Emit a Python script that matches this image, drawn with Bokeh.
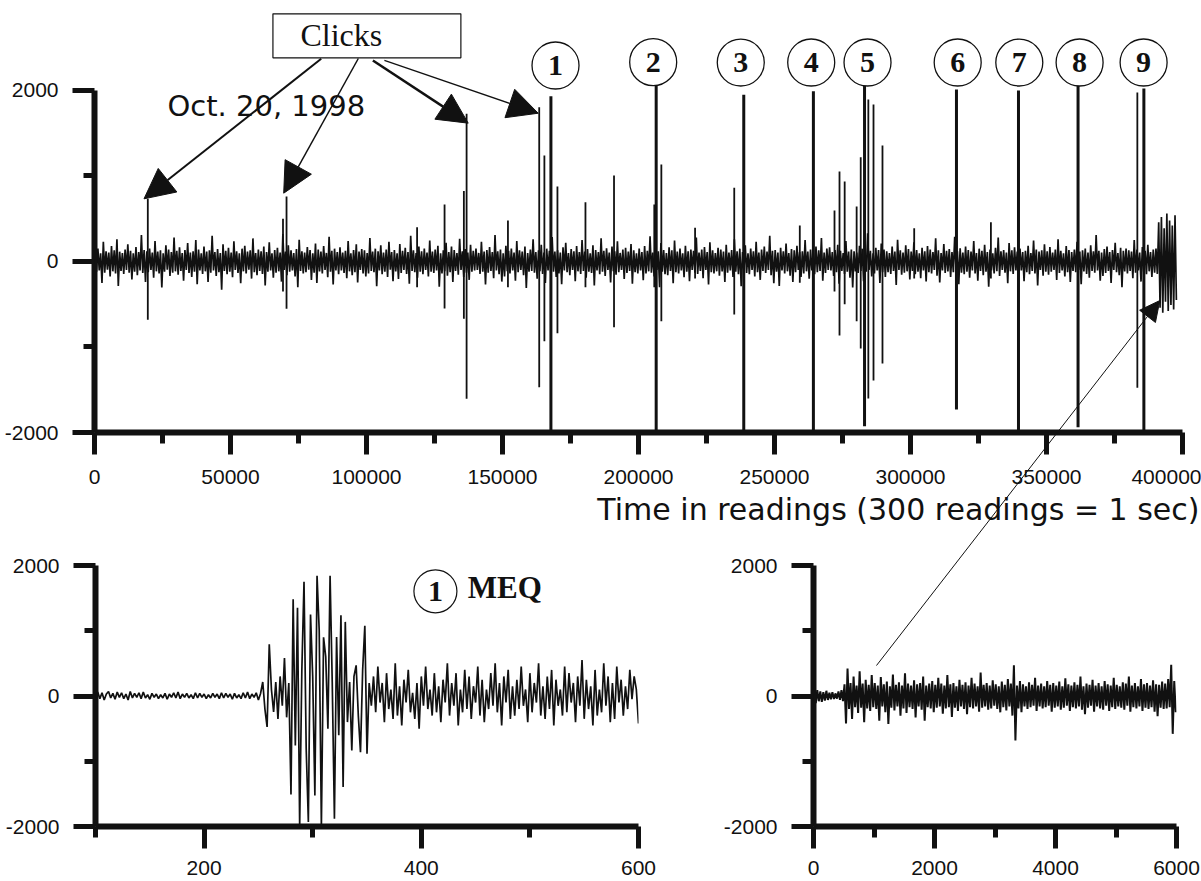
import numpy as np
from bokeh.plotting import figure
from bokeh.layouts import column, row
from bokeh.models import (Range1d, FixedTicker, Arrow, NormalHead, Title,
                          NumeralTickFormatter)
from bokeh.core.properties import value
from bokeh.embed import file_html
from bokeh.resources import INLINE

# ---------------- data ----------------
# Top record, Oct. 20, 1998: noise envelope (max / min) per 1000-reading bin
top_bin = 1000
top_hi = [110, 150, 95, 230, 120, 105, 180, 130, 260, 115,
          100, 140, 200, 125, 95, 170, 110, 310, 135, 120,
          150, 105, 240, 115, 130, 95, 190, 140, 110, 280,
          125, 165, 100, 135, 215, 105, 120, 250, 140, 95,
          175, 115, 130, 300, 110, 145, 100, 200, 125, 160,
          105, 235, 120, 95, 150, 185, 115, 130, 270, 100,
          140, 120, 175, 110, 225, 95, 135, 160, 105, 320,
          115, 190, 130, 100, 145, 255, 120, 105, 170, 135,
          95, 210, 140, 115, 180, 100, 290, 125, 150, 110,
          165, 105, 125, 240, 95, 135, 200, 115, 145, 130,
          100, 275, 115, 150, 120, 190, 105, 140, 230, 110,
          135, 95, 205, 125, 160, 110, 300, 130, 100, 175,
          120, 150, 105, 245, 115, 140, 185, 95, 130, 220,
          110, 175, 135, 100, 265, 120, 145, 105, 195, 125,
          150, 100, 230, 115, 135, 170, 110, 310, 120, 140,
          95, 185, 125, 150, 105, 240, 130, 115, 175, 100,
          140, 260, 110, 130, 195, 105, 150, 125, 285, 115,
          130, 105, 165, 220, 100, 145, 120, 180, 110, 250,
          115, 145, 95, 190, 135, 110, 270, 125, 155, 105,
          175, 120, 235, 100, 140, 160, 115, 205, 130, 95,
          150, 110, 180, 125, 295, 105, 140, 120, 215, 135,
          100, 165, 130, 245, 115, 150, 95, 185, 120, 140,
          125, 280, 105, 140, 170, 110, 225, 130, 100, 160,
          140, 115, 195, 105, 135, 260, 120, 150, 110, 190,
          95, 150, 120, 230, 105, 140, 175, 115, 300, 125,
          135, 105, 160, 120, 210, 100, 145, 130, 185, 110,
          120, 250, 115, 140, 95, 175, 130, 275, 105, 150,
          165, 110, 135, 195, 125, 100, 240, 115, 140, 120,
          105, 185, 150, 110, 330, 125, 95, 160, 135, 210,
          140, 120, 100, 175, 115, 255, 130, 105, 190, 145,
          115, 225, 135, 95, 160, 120, 180, 140, 110, 270,
          130, 100, 205, 125, 145, 110, 290, 120, 155, 105,
          175, 135, 115, 240, 100, 150, 125, 195, 110, 140,
          95, 160, 280, 120, 135, 105, 215, 130, 165, 115,
          150, 110, 125, 185, 100, 245, 140, 115, 130, 200,
          120, 170, 105, 140, 260, 125, 95, 180, 135, 110,
          140, 230, 115, 130, 150, 105, 190, 120, 310, 125,
          105, 145, 175, 110, 135, 220, 100, 160, 125, 150,
          130, 115, 250, 140, 105, 170, 125, 195, 110, 140,
          150, 460, 520, 390, 560, 480, 420, 540]
top_lo = [-120, -105, -250, -130, -95, -175, -115, -140, -285, -110,
          -145, -100, -130, -210, -120, -160, -105, -135, -240, -125,
          -100, -190, -115, -140, -305, -120, -95, -170, -130, -115,
          -155, -110, -225, -100, -135, -180, -120, -265, -105, -145,
          -115, -240, -130, -105, -170, -125, -330, -110, -150, -120,
          -185, -100, -135, -255, -115, -140, -95, -200, -125, -160,
          -110, -145, -280, -120, -105, -190, -130, -115, -235, -100,
          -160, -120, -105, -175, -300, -110, -140, -125, -95, -215,
          -130, -250, -115, -140, -100, -185, -120, -270, -105, -150,
          -105, -135, -195, -115, -160, -125, -245, -100, -140, -175,
          -140, -110, -125, -290, -105, -150, -120, -180, -95, -230,
          -115, -205, -135, -100, -145, -260, -110, -125, -190, -120,
          -150, -100, -175, -120, -135, -105, -295, -140, -115, -165,
          -125, -240, -110, -155, -100, -180, -130, -215, -120, -105,
          -100, -145, -120, -270, -130, -110, -195, -105, -150, -235,
          -175, -115, -140, -105, -225, -125, -100, -160, -310, -120,
          -110, -130, -200, -115, -145, -250, -105, -135, -120, -180,
          -140, -265, -105, -125, -160, -100, -230, -115, -145, -110,
          -190, -120, -135, -280, -105, -150, -120, -170, -100, -245,
          -115, -155, -125, -100, -205, -135, -110, -260, -125, -140,
          -105, -220, -140, -115, -130, -175, -100, -300, -120, -150,
          -160, -110, -255, -125, -140, -105, -185, -120, -230, -100,
          -130, -145, -110, -195, -100, -270, -125, -140, -115, -165,
          -115, -240, -130, -105, -180, -120, -150, -290, -105, -135,
          -150, -100, -175, -125, -215, -110, -135, -100, -160, -255,
          -120, -285, -105, -140, -115, -165, -240, -125, -100, -180,
          -140, -115, -200, -105, -150, -125, -110, -225, -135, -100,
          -105, -170, -125, -260, -110, -145, -120, -190, -305, -115,
          -135, -110, -230, -120, -100, -175, -140, -105, -250, -125,
          -180, -125, -145, -110, -275, -100, -155, -130, -115, -210,
          -110, -150, -120, -195, -105, -235, -125, -140, -100, -165,
          -245, -105, -135, -115, -180, -125, -100, -265, -130, -150,
          -120, -190, -105, -140, -225, -110, -160, -120, -295, -105,
          -140, -115, -170, -100, -130, -255, -115, -145, -105, -185,
          -105, -230, -125, -150, -110, -140, -280, -100, -165, -120,
          -155, -120, -100, -215, -135, -105, -175, -125, -240, -110,
          -125, -100, -265, -115, -145, -190, -110, -130, -105, -225,
          -170, -135, -110, -250, -100, -125, -160, -300, -115, -140,
          -110, -195, -130, -105, -235, -120, -150, -115, -180, -130,
          -145, -540, -600, -470, -580, -510, -560, -450]

# isolated clicks / spikes (reading index, peak up, peak down)
spike_x = [19600, 69300, 70600, 118600, 128700, 135800, 136800, 152000,
           163500, 165400, 170200, 180500, 191000, 205800, 208400, 220800,
           235200, 259300, 272060, 273900, 275800, 280200, 281700, 284500,
           286400, 289700, 301360, 329560, 383400]
spike_up = [733, 500, 760, 400, 667, 823, 1727, 480,
            1805, 1240, 877, 694, 1006, 667, 1134, 394,
            861, 421, 596, 1053, 936, 643, 1220, 1895,
            1836, 1357, 390, 460, 1977]
spike_down = [-682, -350, -553, -300, -550, -670, -1606, -300,
              -1470, -932, -838, -300, -768, -300, -698, -200,
              -620, -250, -350, -865, -500, -700, -1018, -1602,
              -1392, -1193, -200, -200, -1477]

# numbered micro-earthquake events 1..9
event_labels = ["1", "2", "3", "4", "5", "6", "7", "8", "9"]
event_x = [167800, 206500, 238700, 264300, 283100, 316900, 339700, 361600, 385800]
event_up = [1934, 2058, 1949, 1992, 2058, 2011, 2000, 2058, 2023]
event_down = [-2000, -1980, -1980, -1980, -1926, -1731, -1980, -1938, -1980]

top_xticks = [0, 50000, 100000, 150000, 200000, 250000, 300000, 350000, 400000]
top_xminor = [25000, 75000, 125000, 175000, 225000, 275000, 325000, 375000]
amp_ticks = [-2000, 0, 2000]
amp_minor = [-1000, 1000]

# Event 1 (MEQ) waveform, one value every 2 readings from 100 to 600
meq_start, meq_step = 100, 2
meq_vals = [20, 60, -40, 50, -60, 30, 70, -30, 40, -50,
            60, -20, 50, -40, 30, -60, 70, -30, 40, -20,
            50, -40, 60, -30, 20, -50, 40, -20, 30, -40,
            20, -30, 40, -50, 30, -20, 50, -30, 60, -40,
            30, -20, 40, -30, 20, -40, 50, -30, 40, -20,
            30, -40, 20, -30, 40, -20, 30, -40, 50, -30,
            40, -20, 30, -50, 40, -30, 20, -40, 50, -30,
            60, -40, 30, -20, 50, -60, 40,
            215, -200, -475, 793, 100, -245, 215, -350, 300, -150,
            583, -327, 200, -1508, 1484, -757, 1351, -2000, 400, 1752,
            -800, -1932, 1250, 300, -1524, 1843, 1000, -2000, 900, 600,
            -500, 1843, 200, -1880, 905, -600, 1238, -1394, 1136, -400,
            215, -833, 300, 470, -300, -860, 400, 1075, -886, 200,
            -150,
            300, -250, 450, -100, 200, -400, 350, -200, 100, -350,
            500, -300, 150, -450, 250, -100, 400, -250, 50, -350,
            200, -500, 300, -150, 450, -200, 100, -300, 350, -250,
            150, -400, 250, -100, 500, -300, 200, -150, 350, -450,
            100, -250, 400, -200, 300, -350, 150, -100, 450, -300,
            250, -400, 100, -200, 350, -150, 500, -250, 200, -450,
            300, -100, 400, -350, 150, -300, 250, -200, 450, -150,
            100, -400, 350, -250, 200, -100, 500, -300, 150, -350,
            300, -200, 400, -450, 250, -150, 100, -300, 450, -250,
            350, -100, 200, -400, 300, -150, 550, -350, 250, -200,
            150, -450, 400, -300, 100, -250, 500, -150, 300, -400,
            200, -350, 450, -100, 250, -300, 150, -200, 400, -50,
            300, 100, -420]
meq_xticks = [200, 400, 600]
meq_xminor = [100, 300, 500]

# End-of-record noise (first 6000 readings), envelope per 50-reading bin
tail_bin = 50
tail_hi = [120, 90, 70, 60, 80, 50, 60, 40, 70, 90,
           180, 420, 200, 300, 160, 380, 190, 250, 170, 320,
           200, 160, 290, 180, 220, 150, 330, 170, 210, 160,
           350, 190, 160, 240, 180, 200, 300, 160, 190, 230,
           170, 280, 190, 160, 320, 180, 200, 150, 250, 170,
           210, 160, 280, 190, 150, 360, 170, 200, 160, 240,
           180, 150, 220, 170, 260, 190, 470, 160, 230, 180,
           150, 210, 170, 280, 160, 190, 150, 230, 170, 200,
           160, 220, 150, 270, 180, 160, 210, 170, 300, 150,
           190, 170, 250, 160, 200, 150, 230, 180, 160, 280,
           170, 150, 210, 190, 300, 160, 200, 150, 260, 180,
           200, 160, 240, 180, 170, 220, 190, 260, 480, 230]
tail_lo = [-110, -80, -90, -70, -60, -50, -45, -40, -60, -80,
           -420, -200, -350, -170, -260, -180, -400, -190, -230, -170,
           -200, -380, -160, -250, -430, -180, -220, -160, -300, -190,
           -260, -170, -200, -330, -160, -210, -380, -170, -190, -250,
           -180, -160, -270, -190, -170, -320, -180, -230, -160, -200,
           -280, -170, -190, -160, -240, -180, -160, -210, -190, -150,
           -200, -250, -170, -220, -160, -300, -680, -190, -250, -160,
           -200, -170, -150, -230, -160, -190, -170, -150, -240, -180,
           -160, -210, -180, -150, -230, -170, -190, -160, -210, -280,
           -180, -150, -240, -160, -190, -210, -150, -230, -170, -200,
           -160, -180, -210, -150, -240, -170, -190, -160, -230, -180,
           -200, -170, -240, -310, -180, -200, -190, -170, -580, -250]
tail_xticks = [0, 2000, 4000, 6000]
tail_xminor = [1000, 3000, 5000]

# ---------------- styling ----------------
INK = "#111111"
TICK_FONT = "Liberation Sans"


def zigzag(bin_width, hi, lo):
    xs, ys = [], []
    for i in range(min(len(hi), len(lo))):
        xs += [i * bin_width + bin_width * 0.25, i * bin_width + bin_width * 0.75]
        ys += [hi[i], lo[i]]
    return xs, ys


def style(p, xt, xm, yt, ym, xstand, ystand, ybounds=None):
    p.grid.visible = False
    p.outline_line_color = None
    for ax in (p.xaxis[0], p.yaxis[0]):
        ax.axis_line_width = 6
        ax.axis_line_color = INK
        ax.major_tick_line_width = 5
        ax.minor_tick_line_width = 5
        ax.major_tick_line_color = INK
        ax.minor_tick_line_color = INK
        ax.major_tick_in = 0
        ax.minor_tick_in = 0
        ax.major_tick_out = 22
        ax.minor_tick_out = 11
        ax.major_label_text_font = TICK_FONT
        ax.major_label_text_font_size = "21px"
        ax.major_label_text_color = "#111111"
        ax.formatter = NumeralTickFormatter(format="0")
    p.xaxis[0].ticker = FixedTicker(ticks=xt, minor_ticks=xm)
    p.yaxis[0].ticker = FixedTicker(ticks=yt, minor_ticks=ym)
    p.xaxis[0].major_label_standoff = xstand
    p.yaxis[0].major_label_standoff = ystand
    if ybounds is not None:
        p.yaxis[0].bounds = ybounds


# ---------------- top panel ----------------
A = figure(width=1201, height=530, x_range=Range1d(0, 400000),
           y_range=Range1d(-2000, 3029), output_backend="svg",
           toolbar_location=None, min_border_left=94, min_border_right=19,
           min_border_top=2, min_border_bottom=98,
           background_fill_color="white", border_fill_color="white")
style(A, top_xticks, top_xminor, amp_ticks, amp_minor, 15, 14, (-2000, 2000))

tx, ty = zigzag(top_bin, top_hi, top_lo)
A.line(tx, ty, line_width=1.7, color=INK)
A.segment(x0=spike_x, y0=spike_down, x1=spike_x, y1=spike_up,
          line_width=1.8, color=INK)
A.segment(x0=event_x, y0=event_down, x1=event_x, y1=event_up,
          line_width=3, color=INK)

# "Clicks" box
A.quad(left=[65600], right=[134700], bottom=[2382], top=[2897],
       fill_color="white", line_color=INK, line_width=1.2)
A.text(x=[75700], y=[2650], text=["Clicks"], text_font=value("Liberation Serif"),
       text_font_size="32px", text_align="left", text_baseline="middle",
       text_color=INK)
A.text(x=[26800], y=[1815], text=["Oct. 20, 1998"], text_font=value("DejaVu Sans"),
       text_font_size="29px", text_align="left", text_baseline="middle",
       text_color=INK)

circ_x = [169490, 205400, 237600, 263500, 284200, 317350, 340000, 362170, 385700]
circ_y = [2292, 2331, 2327, 2327, 2327, 2327, 2327, 2327, 2327]
A.scatter(circ_x, circ_y, marker="circle", size=47, fill_color="white",
          line_color=INK, line_width=1.3)
A.text(x=circ_x, y=circ_y, text=event_labels, text_font=value("Liberation Serif"),
       text_font_style="bold", text_font_size="30px", text_align="center",
       text_baseline="middle", text_color=INK)

for (xs, ys, xe, ye, lw) in [(83350, 2371, 18200, 733, 2.0),
                             (96990, 2374, 69560, 799, 1.5),
                             (102350, 2351, 137390, 1618, 2.5),
                             (106580, 2351, 163130, 1734, 1.3)]:
    A.add_layout(Arrow(end=NormalHead(size=30, fill_color=INK, line_color=INK),
                       x_start=xs, y_start=ys, x_end=xe, y_end=ye,
                       line_width=lw, line_color=INK))

A.add_layout(Title(text="Time in readings (300 readings = 1 sec)", align="right",
                   offset=-17, standoff=6, text_font="DejaVu Sans",
                   text_font_size="30px", text_font_style="normal",
                   text_color=INK), "below")

# ---------------- bottom-left: event 1 ----------------
B = figure(width=700, height=596, x_range=Range1d(100, 600),
           y_range=Range1d(-2000, 6215), output_backend="svg",
           toolbar_location=None, min_border_left=95, min_border_right=62,
           min_border_top=5, min_border_bottom=55,
           background_fill_color=None, border_fill_color=None)
style(B, meq_xticks, meq_xminor, amp_ticks, amp_minor, 12, 14, (-2000, 2000))
meq_x = [meq_start + meq_step * i for i in range(len(meq_vals))]
B.line(meq_x, meq_vals, line_width=1.7, color=INK)
B.scatter([413], [1605], marker="circle", size=43, fill_color=None,
          line_color=INK, line_width=1.2)
B.text(x=[413], y=[1605], text=["1"], text_font=value("Liberation Serif"),
       text_font_style="bold", text_font_size="30px", text_align="center",
       text_baseline="middle", text_color=INK)
B.text(x=[442.8], y=[1663], text=["MEQ"], text_font=value("Liberation Serif"),
       text_font_style="bold", text_font_size="31px", text_align="left",
       text_baseline="middle", text_color=INK)

# ---------------- bottom-right: end burst ----------------
C = figure(width=501, height=596, x_range=Range1d(0, 6000),
           y_range=Range1d(-2000, 6215), output_backend="svg",
           toolbar_location=None, min_border_left=113, min_border_right=25,
           min_border_top=5, min_border_bottom=55,
           background_fill_color=None, border_fill_color=None)
style(C, tail_xticks, tail_xminor, amp_ticks, amp_minor, 12, 14, (-2000, 2000))
cx, cy = zigzag(tail_bin, tail_hi, tail_lo)
C.line(cx, cy, line_width=2.0, color=INK)
C.add_layout(Arrow(end=NormalHead(size=20, fill_color=INK, line_color=INK),
                   x_start=1041, y_start=467, x_end=5724, y_end=6061,
                   line_width=1, line_color=INK))

bottom = row(B, C, spacing=0, margin=(-245, 0, 0, 0))
layout = column(A, bottom, spacing=0)

open("out.html", "w").write(file_html(layout, INLINE))
